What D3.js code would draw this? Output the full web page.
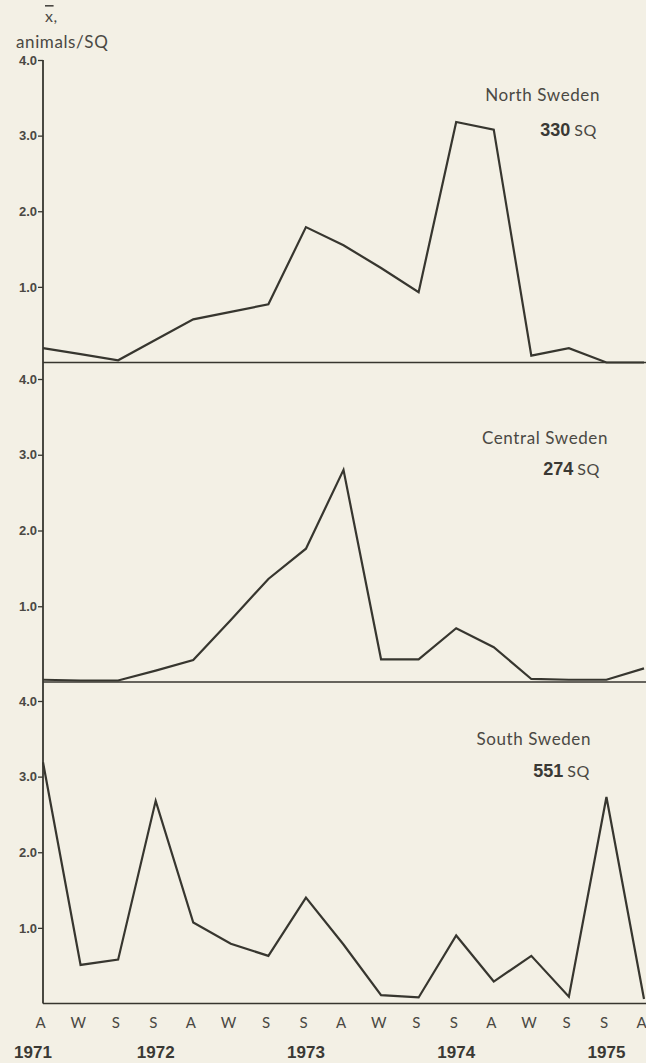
<!DOCTYPE html>
<meta charset="utf-8">
<script src="https://cdn.jsdelivr.net/npm/d3@7/dist/d3.min.js"></script>
<style>
	body {
		margin: 0;
		background: #f3f0e5;
	}
	svg {
		display: block;
		background: #f3f0e5;
	}
	.tick text {
		font-family: "Liberation Sans", Arial, sans-serif;
		font-weight: bold;
		font-size: 13px;
		fill: #4a4843;
	}
	.light {
		font-family: Lato, "Noto Sans", sans-serif;
		fill: #4a4843;
		letter-spacing: 0.6px;
	}
	.narrow {
		font-family: "Liberation Sans Narrow", "Liberation Sans", sans-serif;
		font-weight: bold;
		fill: #3a3934;
	}
</style>
<svg width="646" height="1063"></svg>
<script>
	// seasons along the time axis, 1971 - 1975
	var seasons = ['A', 'W', 'S', 'S', 'A', 'W', 'S', 'S', 'A', 'W', 'S', 'S', 'A', 'W', 'S', 'S', 'A']
	var years = ['1971', '1972', '1973', '1974', '1975']
	var yearAt = [0, 3, 7, 11, 15]
	var yTicks = [1, 2, 3, 4]

	var regions = ['North Sweden', 'Central Sweden', 'South Sweden']
	var squares = [330, 274, 551]

	// mean animals per SQ
	var north = [0.19, 0.11, 0.03, 0.30, 0.57, 0.67, 0.77, 1.79, 1.55, 1.25, 0.93, 3.18, 3.08, 0.09, 0.19, 0.00, 0.00]
	var central = [0.03, 0.02, 0.02, 0.15, 0.29, 0.82, 1.36, 1.76, 2.80, 0.30, 0.30, 0.71, 0.46, 0.04, 0.03, 0.03, 0.18]
	var south = [3.19, 0.51, 0.58, 2.68, 1.07, 0.79, 0.63, 1.40, 0.78, 0.11, 0.08, 0.90, 0.29, 0.63, 0.09, 2.73, 0.06]

	var svg = d3.select('svg'),
		ink = '#37362f',
		axisX = 43

	var x = d3.scalePoint()
		.domain(d3.range(seasons.length))
		.range([axisX, 644])

	// one panel per region, stacked
	var panels = [
		{ name: regions[0], sq: squares[0], values: north, top: 60, bottom: 362.5, nameDy: 41, sqDy: 76, nameX: 600, sqX: 597 },
		{ name: regions[1], sq: squares[1], values: central, top: 379, bottom: 682, nameDy: 65, sqDy: 96, nameX: 608, sqX: 600 },
		{ name: regions[2], sq: squares[2], values: south, top: 701, bottom: 1003.5, nameDy: 44, sqDy: 76, nameX: 591, sqX: 590 }
	]

	panels.forEach(function (p) {
		var y = d3.scaleLinear().domain([0, 4]).range([p.bottom, p.top])
		p.y = y

		var ax = svg.append('g')
			.attr('transform', 'translate(' + axisX + ',0)')
			.call(d3.axisLeft(y).tickValues(yTicks).tickFormat(d3.format('.1f')).tickSize(5).tickPadding(1))
		ax.select('.domain').remove()
		ax.selectAll('.tick line').attr('stroke', ink).attr('stroke-width', 1.3)

		// zero line
		svg.append('line')
			.attr('x1', axisX).attr('x2', 646)
			.attr('y1', y(0)).attr('y2', y(0))
			.attr('stroke', ink)
			.attr('stroke-width', 1.6)

		var line = d3.line()
			.x(function (d, i) { return x(i) })
			.y(function (d) { return y(d) })

		svg.append('path')
			.attr('d', line(p.values))
			.attr('fill', 'none')
			.attr('stroke', ink)
			.attr('stroke-width', 2.2)
			.attr('stroke-linejoin', 'miter')

		svg.append('text')
			.attr('class', 'light')
			.attr('x', p.nameX)
			.attr('y', p.top + p.nameDy)
			.attr('text-anchor', 'end')
			.style('font-size', '17px')
			.text(p.name)

		var t = svg.append('text')
			.attr('x', p.sqX)
			.attr('y', p.top + p.sqDy)
			.attr('text-anchor', 'end')
		t.append('tspan').attr('class', 'narrow').style('font-size', '18px').text(p.sq)
		t.append('tspan').attr('class', 'light').style('font-size', '16px').attr('dx', 4).text('SQ')
	})

	// continuous y axis through all panels
	svg.append('line')
		.attr('x1', axisX).attr('x2', axisX)
		.attr('y1', panels[0].y(4)).attr('y2', panels[2].y(0))
		.attr('stroke', ink)
		.attr('stroke-width', 1.8)

	// y title
	var yt = svg.append('text').attr('class', 'light').attr('x', 45).attr('y', 22).style('font-size', '16px')
	yt.append('tspan').style('text-decoration', 'overline').text('x')
	yt.append('tspan').text(',')
	svg.append('text').attr('class', 'light').attr('x', 16).attr('y', 48).style('font-size', '17px').text('animals/SQ')

	// season labels
	svg.append('g').selectAll('text')
		.data(seasons)
		.enter().append('text')
		.attr('class', 'light')
		.attr('x', function (d, i) { return x(i) - 2 })
		.attr('y', 1028)
		.attr('text-anchor', 'middle')
		.style('font-size', '15px')
		.text(function (d) { return d })

	// year labels
	svg.append('g').selectAll('text')
		.data(years)
		.enter().append('text')
		.attr('class', 'narrow')
		.attr('x', function (d, i) { return x(yearAt[i]) + (i == 0 ? -10 : 0) })
		.attr('y', 1058)
		.attr('text-anchor', 'middle')
		.style('font-size', '17px')
		.text(function (d) { return d })
</script>
